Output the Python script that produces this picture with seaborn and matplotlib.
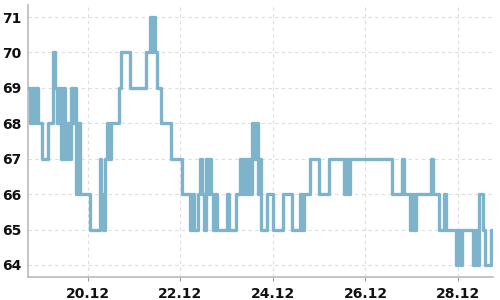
import matplotlib
matplotlib.use("Agg")
import matplotlib.pyplot as plt
import matplotlib.dates as mdates
import pandas as pd
import seaborn as sns

# hourly readings starting 18.12 17:00
start_time = "2023-12-18 17:00"
values = [
    69, 68, 69, 68, 69, 68, 68, 67, 67, 67, 68, 68, 68, 70, 69, 68, 69, 67, 69, 67, 68, 67, 69, 68,
    69, 66, 68, 66, 66, 66, 66, 66, 65, 65, 65, 65, 65, 67, 66, 65, 67, 68, 67, 68, 68, 68, 68, 69,
    70, 70, 70, 70, 70, 69, 69, 69, 69, 69, 69, 69, 69, 70, 70, 71, 70, 71, 70, 69, 69, 68, 68, 68,
    68, 68, 67, 67, 67, 67, 67, 67, 66, 66, 66, 66, 65, 66, 65, 65, 66, 67, 66, 65, 67, 66, 67, 66,
    65, 66, 65, 65, 65, 65, 65, 66, 65, 65, 65, 65, 66, 66, 67, 66, 67, 66, 67, 66, 68, 67, 68, 66,
    67, 65, 65, 65, 66, 66, 66, 65, 65, 65, 65, 65, 66, 66, 66, 66, 66, 65, 65, 65, 65, 66, 65, 66,
    66, 66, 67, 67, 67, 67, 67, 66, 66, 66, 66, 66, 67, 67, 67, 67, 67, 67, 67, 67, 66, 67, 66, 67,
    67, 67, 67, 67, 67, 67, 67, 67, 67, 67, 67, 67, 67, 67, 67, 67, 67, 67, 67, 67, 67, 66, 66, 66,
    66, 66, 67, 66, 66, 66, 65, 66, 65, 66, 66, 66, 66, 66, 66, 66, 66, 67, 66, 66, 66, 65, 65, 65,
    66, 65, 65, 65, 65, 65, 64, 65, 64, 65, 65, 65, 65, 65, 65, 64, 65, 64, 66, 66, 65, 64, 64, 64,
    65, 65,
]
y_ticks = [64, 65, 66, 67, 68, 69, 70, 71]
x_tick_dates = ["2023-12-20", "2023-12-22", "2023-12-24", "2023-12-26", "2023-12-28"]

df = pd.DataFrame({
    "time": pd.date_range(start_time, periods=len(values), freq="h"),
    "value": values,
})

fig = plt.figure(figsize=(5, 3), dpi=100)
ax = fig.add_axes([0.056, 0.0767, 0.93, 0.9066])

sns.lineplot(data=df, x="time", y="value", ax=ax, drawstyle="steps-post",
             color="#7db4cc", linewidth=2.4, zorder=3)

ax.set_xlim(pd.Timestamp("2023-12-18 16:52"), pd.Timestamp("2023-12-28 18:12"))
ax.set_ylim(63.66, 71.34)
ax.set_yticks(y_ticks)
ax.set_xticks([pd.Timestamp(d) for d in x_tick_dates])
ax.xaxis.set_major_formatter(mdates.DateFormatter("%d.%m"))
ax.set_xlabel("")
ax.set_ylabel("")

ax.grid(True, color="#dddddd", linestyle=(0, (3, 3)), linewidth=0.8, zorder=0)
for s in ["top", "right"]:
    ax.spines[s].set_visible(False)
for s in ["left", "bottom"]:
    ax.spines[s].set_color("#bbbbbb")
    ax.spines[s].set_linewidth(1.2)

ax.tick_params(axis="y", length=0, pad=5, labelsize=10, labelcolor="#111111")
ax.tick_params(axis="x", length=3, color="#999999", pad=4, labelsize=10, labelcolor="#111111")
for lab in ax.get_xticklabels() + ax.get_yticklabels():
    lab.set_fontweight("bold")

fig.savefig("out.png", dpi=100)
